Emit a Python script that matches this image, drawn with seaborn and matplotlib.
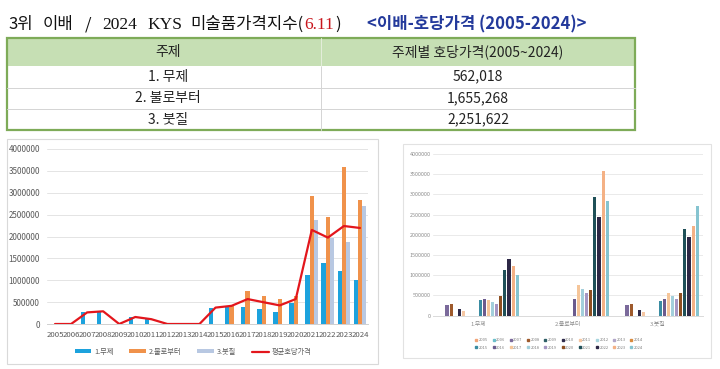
import numpy as np
import pandas as pd
import matplotlib
matplotlib.use("Agg")
import matplotlib.pyplot as plt
import seaborn as sns
from matplotlib.patches import Rectangle, Patch
from matplotlib.lines import Line2D
from matplotlib.ticker import FuncFormatter, MultipleLocator

# ---------------- data ----------------
years = [str(y) for y in range(2005, 2025)]
mu_je = [0, 0, 265000, 290000, 0, 155000, 110000, 0, 0, 0,
         372000, 405000, 380000, 340000, 280000, 485000,
         1125000, 1400000, 1220000, 1005000]
bullo = [0, 0, 0, 0, 0, 0, 0, 0, 0, 0,
         0, 405000, 760000, 650000, 565000, 630000,
         2930000, 2450000, 3580000, 2835000]
butjil = [0, 0, 0, 0, 0, 0, 0, 0, 0, 0,
          0, 0, 0, 0, 0, 0,
          2370000, 1975000, 1880000, 2700000]
avg_price = [0, 0, 265000, 290000, 0, 160000, 110000, 0, 0, 0,
             375000, 415000, 570000, 497000, 425000, 570000,
             2150000, 1975000, 2240000, 2195000]
right_theme3 = [0, 0, 250000, 275000, 0, 145000, 90000, 0, 0, 0,
                350000, 400000, 555000, 480000, 400000, 555000,
                2140000, 1950000, 2225000, 2710000]
themes = ["1.무제", "2.불로부터", "3.붓질"]
avg_label = "평균호당가격"

table_header = ["주제", "주제별 호당가격(2005~2024)"]
table_subjects = ["1. 무제", "2. 불로부터", "3. 붓질"]
table_values = ["562,018", "1,655,268", "2,251,622"]

left_colors = ["#1CA2DD", "#F0924B", "#B8C8E2"]
red = "#E3161C"
year_colors = ["#F2A477", "#6CBFCB", "#7B6A9B", "#9E5A2C", "#2E5E66",
               "#2F2B4B", "#F6C7A3", "#A8D5DE", "#B1A6C8", "#D98B3E",
               "#3A8CA2", "#6B5B8E", "#F5C599", "#A3CFDB", "#A596C2",
               "#8E4F21", "#1F5058", "#2D2846", "#F4B185", "#86C4D0"]

# ---------------- setup ----------------
W, H = 720, 369
sns.set_theme(style="white")
plt.rcParams['font.family'] = ['Noto Sans CJK KR', 'DejaVu Sans']
fig = plt.figure(figsize=(7.2, 3.69), dpi=100)
fig.patch.set_facecolor("white")
renderer = fig.canvas.get_renderer()


def fx(x):
    return x / W


def fy(y):
    return 1 - y / H


# ---------------- title ----------------
serif = ["Liberation Serif", "DejaVu Serif"]
sans = ["Noto Sans CJK KR", "DejaVu Sans"]
# (text, fixed x or None to chain after previous, colour, family, size, weight)
title_parts = [
    ("3위", 8, "#111111", sans, 12, "normal"),
    ("이배", 43, "#111111", sans, 12, "normal"),
    ("/", 85, "#111111", sans, 12, "normal"),
    ("2024", 102, "#111111", serif, 12.5, "normal"),
    ("KYS", 147, "#111111", serif, 12.5, "normal"),
    ("미술품가격지수(", 190, "#111111", sans, 12, "normal"),
    ("6.11", None, "#C8161D", serif, 12.5, "normal"),
    (")", None, "#111111", sans, 12, "normal"),
    ("<이배-호당가격 (2005-2024)>", 367, "#23399B", sans, 12, "bold"),
]
prev_end = 0
for txt, x, col, fam, fs, wt in title_parts:
    xx = x if x is not None else prev_end + 1
    t = fig.text(fx(xx), fy(29), txt, color=col, family=fam, fontsize=fs,
                 fontweight=wt, ha="left", va="baseline")
    bb = t.get_window_extent(renderer=renderer)
    prev_end = bb.x1

# ---------------- table ----------------
tx0, tx1, tcol = 7, 635, 321
trows = [38, 66, 87.5, 109, 130]
fig.add_artist(Rectangle((fx(tx0), fy(trows[1])), fx(tx1) - fx(tx0),
                         fy(trows[0]) - fy(trows[1]), transform=fig.transFigure,
                         facecolor="#C6DFB4", edgecolor="none"))
for yy in trows[2:4]:
    fig.add_artist(Line2D([fx(tx0), fx(tx1)], [fy(yy), fy(yy)],
                          transform=fig.transFigure, color="#D4D4D4", lw=0.7))
fig.add_artist(Line2D([fx(tcol), fx(tcol)], [fy(trows[1]), fy(trows[-1])],
                      transform=fig.transFigure, color="#D4D4D4", lw=0.7))
fig.add_artist(Line2D([fx(tcol), fx(tcol)], [fy(trows[0]), fy(trows[1])],
                      transform=fig.transFigure, color="#E4EEDC", lw=0.7))
fig.add_artist(Rectangle((fx(tx0), fy(trows[-1])), fx(tx1) - fx(tx0),
                         fy(trows[0]) - fy(trows[-1]), transform=fig.transFigure,
                         facecolor="none", edgecolor="#7EAB58", lw=1.6))
c1 = (tx0 + tcol) / 2 + 4
c2 = (tcol + tx1) / 2
fig.text(fx(c1), fy(52), table_header[0], ha="center", va="center", fontsize=10, color="#222222")
fig.text(fx(c2), fy(52), table_header[1], ha="center", va="center", fontsize=10, color="#222222")
for i, (s, v) in enumerate(zip(table_subjects, table_values)):
    yc = (trows[i + 1] + trows[i + 2]) / 2
    fig.text(fx(c1), fy(yc), s, ha="center", va="center", fontsize=10, color="#222222")
    fig.text(fx(c2), fy(yc), v, ha="center", va="center", fontsize=10, color="#222222")

# ---------------- chart frames ----------------
fig.add_artist(Rectangle((fx(7), fy(364)), fx(378) - fx(7), fy(139) - fy(364),
                         transform=fig.transFigure, fill=False, ec="#D9D9D9", lw=0.8))
fig.add_artist(Rectangle((fx(403), fy(358)), fx(711) - fx(403), fy(144) - fy(358),
                         transform=fig.transFigure, fill=False, ec="#E2E2E2", lw=0.8))

int_fmt = FuncFormatter(lambda v, p: f"{int(round(v))}")

# ---------------- left chart ----------------
axL = fig.add_axes([fx(47), fy(324), fx(368) - fx(47), fy(149) - fy(324)])
dfL = pd.DataFrame({
    "year": years * 3,
    "value": mu_je + bullo + butjil,
    "series": [themes[0]] * len(years) + [themes[1]] * len(years) + [themes[2]] * len(years),
})
sns.barplot(data=dfL, x="year", y="value", hue="series", hue_order=themes,
            palette=left_colors, width=0.8, linewidth=0, saturation=1,
            errorbar=None, legend=False, ax=axL)
sns.lineplot(x=np.arange(len(years)), y=avg_price, color=red, lw=1.6, ax=axL)
axL.set_xlim(-0.5, len(years) - 0.5)
axL.set_ylim(0, 4000000)
axL.yaxis.set_major_locator(MultipleLocator(500000))
axL.yaxis.set_major_formatter(int_fmt)
axL.set_xlabel("")
axL.set_ylabel("")
axL.yaxis.grid(True, color="#E4E4E4", lw=0.7)
axL.set_axisbelow(True)
for s in ["top", "left", "right"]:
    axL.spines[s].set_visible(False)
axL.spines["bottom"].set_color("#D0D0D0")
axL.spines["bottom"].set_linewidth(0.7)
axL.tick_params(axis="y", length=0, labelsize=5.8, colors="#595959", pad=5)
axL.tick_params(axis="x", length=0, labelsize=5.6, colors="#595959", pad=5)
axL.patch.set_alpha(0)

handlesL = [Patch(facecolor=c, edgecolor="none") for c in left_colors] + \
           [Line2D([], [], color=red, lw=1.6)]
fig.legend(handlesL, themes + [avg_label], loc="center",
           bbox_to_anchor=(fx(193), fy(352)), ncol=4, fontsize=5.2, frameon=False,
           handlelength=2.3, handleheight=0.5, handletextpad=0.4,
           columnspacing=2.2, labelcolor="#595959")

# ---------------- right chart ----------------
axR = fig.add_axes([fx(433), fy(315.5), fx(703) - fx(433), fy(154) - fy(315.5)])
dfR = pd.DataFrame({
    "theme": list(np.repeat(themes, len(years))),
    "year": years * 3,
    "value": mu_je + bullo + right_theme3,
})
sns.barplot(data=dfR, x="theme", y="value", hue="year", hue_order=years,
            palette=year_colors, width=0.92, gap=0.25, linewidth=0, saturation=1,
            errorbar=None, legend=False, ax=axR)
axR.set_ylim(0, 4000000)
axR.yaxis.set_major_locator(MultipleLocator(500000))
axR.yaxis.set_major_formatter(int_fmt)
axR.set_xlabel("")
axR.set_ylabel("")
axR.yaxis.grid(True, color="#EAEAEA", lw=0.7)
axR.set_axisbelow(True)
for s in ["top", "left", "right"]:
    axR.spines[s].set_visible(False)
axR.spines["bottom"].set_color("#DADADA")
axR.spines["bottom"].set_linewidth(0.7)
axR.tick_params(axis="y", length=0, labelsize=3.9, colors="#8C8C8C", pad=1.8)
axR.tick_params(axis="x", length=0, labelsize=4.2, colors="#8C8C8C", pad=4.5)
axR.patch.set_alpha(0)

order = []
half = len(years) // 2
for i in range(half):
    order += [i, i + half]
handlesR = [Line2D([], [], marker="s", ms=2.0, ls="", color=year_colors[i]) for i in order]
labelsR = [years[i] for i in order]
fig.legend(handlesR, labelsR, loc="center", bbox_to_anchor=(fx(559), fy(344)),
           ncol=half, fontsize=2.9, frameon=False, handlelength=0.6,
           handletextpad=0.3, columnspacing=1.1, labelspacing=0.9,
           labelcolor="#7F7F7F")

fig.savefig("out.png", dpi=100)
